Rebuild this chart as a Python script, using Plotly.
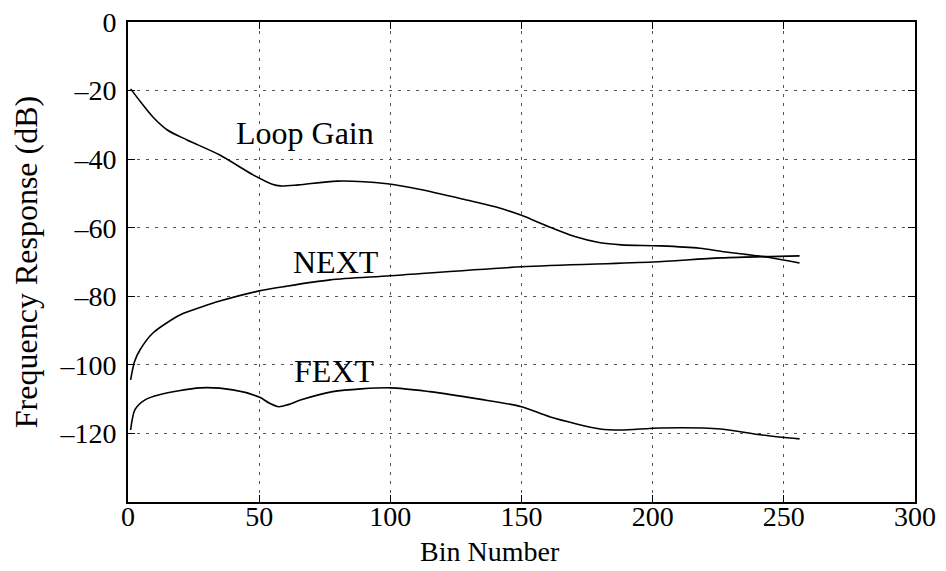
import plotly.graph_objects as go

# values
loop_x = [1, 5, 9.5, 15, 22.5, 35, 47.7, 55, 58, 65, 79.8, 98.8, 111, 129, 140, 150,
          160, 170, 180, 188, 203, 218, 227, 244, 256]
loop_y = [-19.5, -23.5, -27.7, -31.5, -34.4, -38.8, -44.6, -47.3, -47.8, -47.5, -46.4,
          -47.2, -48.8, -51.9, -53.9, -56.4, -59.6, -62.5, -64.4, -65, -65.3, -66, -67,
          -68.6, -70.3]

next_x = [1, 2.5, 4.6, 9.5, 20, 27.5, 35, 49.6, 60, 77, 100, 150, 200, 226, 256]
next_y = [-104.4, -99, -95.6, -90.7, -85.4, -83.3, -81.4, -78.5, -77.1, -75.2, -74,
          -71.4, -70, -68.8, -68.2]

fext_x = [1, 2.7, 6.5, 12, 27.5, 40, 50, 54, 57.5, 61, 66, 78, 100, 115, 134, 150, 161,
          180, 188, 203, 226, 241, 256]
fext_y = [-119, -113, -110.2, -108.7, -106.7, -107.3, -109.4, -111.2, -112.2, -111.6,
          -110.2, -107.8, -106.7, -107.8, -110, -112.2, -115.2, -118.7, -119, -118.4,
          -118.7, -120.4, -121.6]

labels = ['Loop Gain', 'NEXT', 'FEXT']
label_x = [67.6, 79.4, 78.6]
label_y = [-32.4, -70, -101.7]

x_ticks = [0, 50, 100, 150, 200, 250, 300]
y_ticks = [0, -20, -40, -60, -80, -100, -120]

font = 'Liberation Serif, Times New Roman, serif'

fig = go.Figure()
for xs, ys in [(loop_x, loop_y), (next_x, next_y), (fext_x, fext_y)]:
    fig.add_trace(go.Scatter(x=xs, y=ys, mode='lines',
                             line=dict(color='black', width=1.6, shape='spline', smoothing=0.8),
                             showlegend=False, hoverinfo='skip'))

for t, ax, ay in zip(labels, label_x, label_y):
    fig.add_annotation(x=ax, y=ay, text=t, showarrow=False,
                       font=dict(family=font, size=32, color='black'))

# x title drawn as annotation so it sits just under the tick labels, as in the reference
fig.add_annotation(xref='paper', yref='paper', x=0.46, y=-0.104, yanchor='middle',
                   text='Bin Number', showarrow=False,
                   font=dict(family=font, size=28, color='black'))

axis_common = dict(showline=True, linecolor='black', linewidth=2, mirror='ticks',
                   ticks='inside', ticklen=7, tickcolor='black', tickwidth=1,
                   showgrid=True, gridcolor='#555555', gridwidth=1, griddash='3px,6px',
                   zeroline=False, automargin=False, ticklabeloverflow='allow',
                   tickfont=dict(family=font, size=28, color='black'))

fig.update_xaxes(range=[0, 300], tickvals=x_ticks, ticktext=[str(v) for v in x_ticks],
                 ticklabelstandoff=-12, **axis_common)
fig.update_yaxes(range=[-140, 0], tickvals=y_ticks,
                 ticktext=[str(v).replace('-', '\u2013') for v in y_ticks],
                 ticklabelstandoff=4,
                 title=dict(text='Frequency Response (dB)',
                            font=dict(family=font, size=32, color='black'), standoff=14),
                 **axis_common)

# the page body adds an 8px offset, so the figure is sized to fit inside the window
fig.update_layout(width=938, height=563, plot_bgcolor='white', paper_bgcolor='white',
                  margin=dict(l=120, r=31, t=14, b=69))

fig.write_html("out.html")
